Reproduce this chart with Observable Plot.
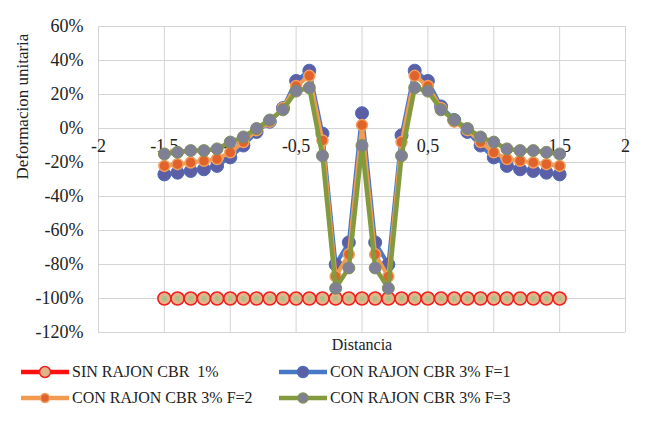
<!DOCTYPE html>
<html>
<head>
<meta charset="utf-8">
<script src="https://cdn.jsdelivr.net/npm/d3@7"></script>
<script src="https://cdn.jsdelivr.net/npm/@observablehq/plot@0.6"></script>
<style>
  body { margin: 0; background: #fff; font-family: "Liberation Serif", "Times New Roman", serif; }
  #wrap { position: relative; width: 650px; height: 438px; }
  .leg { position: absolute; display: flex; align-items: center; font-size: 16px; color: #222; white-space: pre; font-family: "Liberation Serif", "Times New Roman", serif; }
  .leg svg { margin-right: 2px; }
</style>
</head>
<body>
<div id="wrap"></div>
<script>
const distancia = [-1.5,-1.4,-1.3,-1.2,-1.1,-1.0,-0.9,-0.8,-0.7,-0.6,-0.5,-0.4,-0.3,-0.2,-0.1,0,0.1,0.2,0.3,0.4,0.5,0.6,0.7,0.8,0.9,1.0,1.1,1.2,1.3,1.4,1.5];
const sinRajon = [-100,-100,-100,-100,-100,-100,-100,-100,-100,-100,-100,-100,-100,-100,-100,-100,-100,-100,-100,-100,-100,-100,-100,-100,-100,-100,-100,-100,-100,-100,-100];
const conF1 = [-27,-26,-25,-24,-22,-17,-10,-2,4,12,28,34,-3,-80,-67,9,-67,-80,-4,34,28,13,5,-2,-10,-17,-22,-24,-25,-26,-27];
const conF2 = [-22,-21,-20,-19,-18,-14,-8,-1,4,12,25,31,-7,-87,-74,2,-74,-87,-8,31,25,12,4,-1,-8,-14,-18,-19,-20,-21,-22];
const conF3 = [-15,-14,-13,-13,-12,-8,-5,0,5,11,22,24,-16,-94,-82,-10,-82,-94,-16,24,22,11,5,0,-5,-8,-12,-13,-13,-14,-15];
const xTicks = [-2,-1.5,-1,-0.5,0,0.5,1,1.5,2];
const yTicks = [60,40,20,0,-20,-40,-60,-80,-100,-120];
const seriesNames = ["SIN RAJON CBR  1%", "CON RAJON CBR 3% F=1", "CON RAJON CBR 3% F=2", "CON RAJON CBR 3% F=3"];
const xLabel = "Distancia";
const yLabel = "Deformacion unitaria";

const rows = (vals) => distancia.map((x, i) => ({x, y: vals[i]}));
const dRed = rows(sinRajon), dF1 = rows(conF1), dF2 = rows(conF2), dF3 = rows(conF3);

const C = {
  red: {line: "#ff1010", fill: "#e2b48a", stroke: "#f02020"},
  f1: {line: "#4a78c8", fill: "#5c5ea6", stroke: "#4f6cb8"},
  f2: {line: "#f29a50", fill: "#e2622c", stroke: "#f0a060"},
  f3: {line: "#849a3e", fill: "#7f7f95", stroke: "#80905a"}
};
const FONT = "'Liberation Serif', 'Times New Roman', serif";

const chart = Plot.plot({
  width: 650,
  height: 362,
  marginLeft: 98,
  marginRight: 25,
  marginTop: 26,
  marginBottom: 30,
  style: {fontFamily: FONT, fontSize: "17px", color: "#222", background: "#fff"},
  x: {domain: [-2, 2], axis: null},
  y: {domain: [-120, 60], axis: null},
  marks: [
    Plot.gridY(yTicks, {stroke: "#d4d4d4", strokeOpacity: 1, strokeWidth: 1}),
    Plot.gridX(xTicks, {stroke: "#d4d4d4", strokeOpacity: 1, strokeWidth: 1}),
    Plot.axisY(yTicks, {tickSize: 0, tickPadding: 15, tickFormat: d => d + "%", fontSize: 18, label: null}),
    Plot.text(xTicks, {x: d => d, y: () => 0, text: d => String(d).replace(".", ","), dy: 18, fontSize: 18}),
    Plot.text([yLabel], {frameAnchor: "left", rotate: -90, dx: -76, fontSize: 17}),
    Plot.text([xLabel], {frameAnchor: "bottom", dy: 17, fontSize: 16}),
    // SIN RAJON
    Plot.line(dRed, {x: "x", y: "y", stroke: C.red.line, strokeWidth: 4}),
    Plot.dot(dRed, {x: "x", y: "y", r: 6.5, fill: C.red.fill, stroke: C.red.stroke, strokeWidth: 1.6}),
    Plot.dot(dRed, {x: "x", y: "y", r: 2.5, fill: "#a8c28a"}),
    // F=1
    Plot.line(dF1, {x: "x", y: "y", stroke: C.f1.line, strokeWidth: 4}),
    Plot.dot(dF1, {x: "x", y: "y", r: 6.5, fill: C.f1.fill, stroke: C.f1.stroke, strokeWidth: 1}),
    // F=2
    Plot.line(dF2, {x: "x", y: "y", stroke: C.f2.line, strokeWidth: 4}),
    Plot.dot(dF2, {x: "x", y: "y", r: 5.5, fill: C.f2.fill, stroke: C.f2.stroke, strokeWidth: 1.5}),
    // F=3
    Plot.line(dF3, {x: "x", y: "y", stroke: C.f3.line, strokeWidth: 4.5}),
    Plot.dot(dF3, {x: "x", y: "y", r: 6, fill: C.f3.fill, stroke: C.f3.stroke, strokeWidth: 1})
  ]
});

const wrap = document.getElementById("wrap");
wrap.appendChild(chart);

const legendItems = [
  {name: seriesNames[0], c: C.red, r: 5.5, left: 20, top: 372},
  {name: seriesNames[1], c: C.f1, r: 5.5, left: 278, top: 372},
  {name: seriesNames[2], c: C.f2, r: 4.5, left: 20, top: 398},
  {name: seriesNames[3], c: C.f3, r: 5, left: 278, top: 398}
];
for (const it of legendItems) {
  const div = document.createElement("div");
  div.className = "leg";
  div.style.left = it.left + "px";
  div.style.top = (it.top - 11) + "px";
  div.style.height = "22px";
  div.innerHTML = `<svg width="50" height="22"><line x1="1" x2="49" y1="11" y2="11" stroke="${it.c.line}" stroke-width="4.5"/><circle cx="25" cy="11" r="${it.r}" fill="${it.c.fill}" stroke="${it.c.stroke}" stroke-width="1.5"/></svg>`;
  const span = document.createElement("span");
  span.textContent = it.name;
  div.appendChild(span);
  wrap.appendChild(div);
}
</script>
</body>
</html>
